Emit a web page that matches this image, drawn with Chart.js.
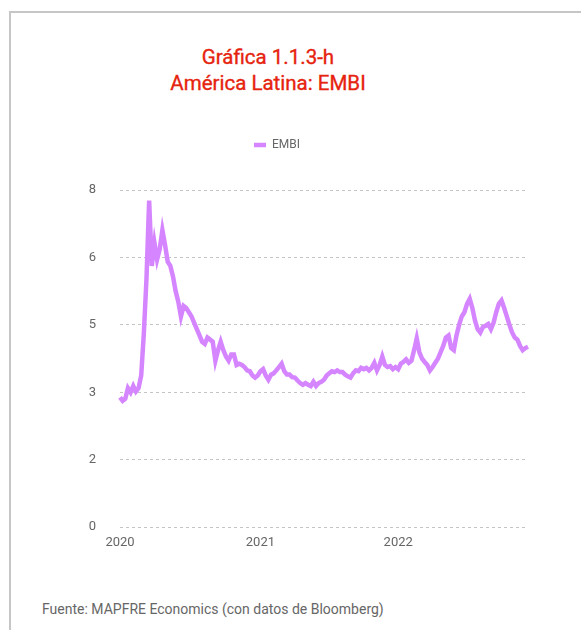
<!DOCTYPE html>
<html>
<head>
<meta charset="utf-8">
<script src="https://cdn.jsdelivr.net/npm/chart.js@4"></script>
<style>
  body { margin: 0; background: #fff; font-family: Roboto, "DejaVu Sans", sans-serif; }
  #frame { position: absolute; left: 9px; top: 11px; width: 700px; height: 700px;
           border-left: 2px solid #c6c6c6; border-top: 2px solid #c6c6c6; }
  #title { position: absolute; left: 0; top: 44px; width: 536px; text-align: center;
           color: #e6230e; font-size: 20.5px; line-height: 26px; -webkit-text-stroke: 0.35px #e6230e; }
  #source { position: absolute; left: 42px; top: 601px; color: #666; font-size: 14px; }
  #wrap { position: absolute; left: 0; top: 129px; width: 554px; height: 430px; }
</style>
</head>
<body>
<div id="frame"></div>
<div id="title">Gráfica 1.1.3-h<br>América Latina: EMBI</div>
<div id="wrap"><canvas id="embiChart"></canvas></div>
<div id="source">Fuente: MAPFRE Economics (con datos de Bloomberg)</div>
<script>
// weekly readings, first week of January 2020 to early December 2022
const seriesName = 'EMBI';
const embi = [
  3.08, 3.00, 3.05, 3.30, 3.20, 3.35, 3.22, 3.30, 3.60, 4.60,
  5.90, 7.75, 6.20, 6.75, 6.35, 6.60, 7.05, 6.70, 6.30, 6.20,
  5.95, 5.60, 5.35, 5.00, 5.25, 5.20, 5.10, 5.00, 4.85, 4.70,
  4.55, 4.40, 4.35, 4.50, 4.45, 4.40, 3.95, 4.20, 4.40, 4.20,
  4.05, 3.95, 4.10, 4.10, 3.85, 3.88, 3.85, 3.80, 3.72, 3.70,
  3.60, 3.55, 3.60, 3.70, 3.75, 3.60, 3.50, 3.62, 3.65, 3.72,
  3.80, 3.88, 3.70, 3.62, 3.62, 3.56, 3.55, 3.48, 3.42, 3.38,
  3.42, 3.38, 3.35, 3.45, 3.35, 3.42, 3.45, 3.50, 3.60, 3.65,
  3.70, 3.68, 3.72, 3.68, 3.68, 3.62, 3.58, 3.55, 3.65, 3.72,
  3.70, 3.78, 3.75, 3.78, 3.72, 3.78, 3.90, 3.72, 3.85, 4.05,
  3.85, 3.80, 3.82, 3.75, 3.80, 3.75, 3.88, 3.92, 3.98, 3.90,
  3.95, 4.20, 4.48, 4.15, 4.00, 3.92, 3.85, 3.72, 3.80, 3.90,
  4.00, 4.15, 4.30, 4.50, 4.55, 4.25, 4.20, 4.55, 4.80, 5.00,
  5.10, 5.30, 5.42, 5.20, 4.90, 4.70, 4.62, 4.75, 4.78, 4.82,
  4.70, 4.85, 5.10, 5.30, 5.38, 5.20, 5.00, 4.80, 4.62, 4.50,
  4.45, 4.30, 4.20, 4.25, 4.28
];
const yTicks = [0, 1.6, 3.2, 4.8, 6.4, 8];

const weeks = [];
for (let i = 0; i < embi.length; i++) {
  weeks.push(new Date(Date.UTC(2020, 0, 1) + i * 7 * 86400000).toISOString().slice(0, 10));
}

// extra room between legend and plot
const legendGap = {
  id: 'legendGap',
  beforeInit(chart) {
    const fit = chart.legend.fit;
    chart.legend.fit = function () {
      fit.bind(chart.legend)();
      this.height += 29;
    };
  }
};

new Chart(document.getElementById('embiChart'), {
  type: 'line',
  data: {
    labels: weeks,
    datasets: [{
      label: seriesName,
      data: embi,
      borderColor: '#d585ff',
      backgroundColor: '#d585ff',
      borderWidth: 4.5,
      pointRadius: 0,
      tension: 0
    }]
  },
  options: {
    responsive: true,
    maintainAspectRatio: false,
    animation: false,
    layout: { padding: { left: 26, right: 26, top: 0, bottom: 7 } },
    plugins: {
      legend: {
        labels: {
          usePointStyle: true,
          pointStyle: 'line',
          boxWidth: 12,
          pointStyleWidth: 12,
          color: '#666',
          font: { family: 'Roboto', size: 12 }
        }
      },
      tooltip: { enabled: false }
    },
    scales: {
      x: {
        grid: { display: false },
        border: { display: false },
        ticks: {
          autoSkip: false,
          maxRotation: 0,
          color: '#666',
          font: { family: 'Roboto', size: 13 },
          padding: 0,
          callback: function (value, index) {
            const d = weeks[index];
            if (index === 0 || d.slice(0, 4) !== weeks[index - 1].slice(0, 4)) return d.slice(0, 4);
            return null;
          }
        }
      },
      y: {
        min: 0,
        max: 8,
        afterBuildTicks: function (axis) {
          axis.ticks = yTicks.map(v => ({ value: v }));
        },
        afterFit: function (axis) {
          axis.width = 94;
        },
        grid: { color: '#c4c4c4', drawTicks: false },
        border: { display: false, dash: [3, 3] },
        ticks: {
          color: '#666',
          font: { family: 'Roboto', size: 13 },
          padding: 24,
          callback: v => v.toFixed(0)
        }
      }
    }
  },
  plugins: [legendGap]
});
</script>
</body>
</html>
